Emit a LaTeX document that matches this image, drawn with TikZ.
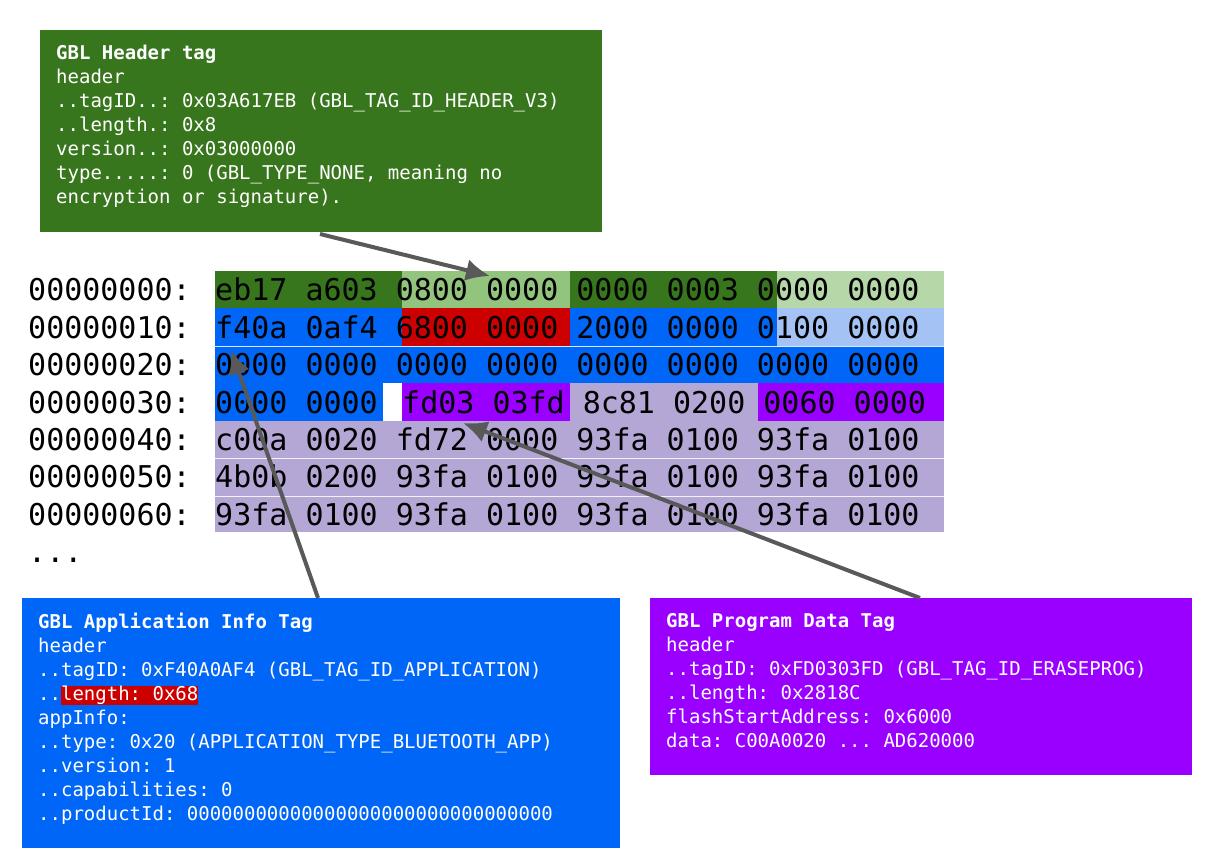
\documentclass[tikz,border=0pt]{standalone}
\usepackage{fontspec}
\setmonofont{DejaVu Sans Mono}
\begin{document}
\begin{tikzpicture}[x=1pt,y=-1pt,
  boxtxt/.style={anchor=north west,align=left,text=white,font=\fontsize{19}{24}\selectfont\ttfamily,inner sep=0pt},
  hex/.style={anchor=base west,inner sep=0pt,font=\fontsize{30}{36}\selectfont\ttfamily},
  arr/.style={draw=arrgray,line width=4pt,-{Latex[length=24pt,width=22pt]}}]
\usetikzlibrary{arrows.meta}
\definecolor{dg}{HTML}{38761D}\definecolor{lg}{HTML}{93C47D}\definecolor{pg}{HTML}{B6D7A8}
\definecolor{bl}{HTML}{0066F7}\definecolor{lb}{HTML}{A4C2F4}\definecolor{rd}{HTML}{CC0000}
\definecolor{pu}{HTML}{9900FF}\definecolor{lv}{HTML}{B4A7D6}\definecolor{arrgray}{HTML}{595959}
\useasboundingbox (0,0) rectangle (1211,866);
\fill[white] (0,0) rectangle (1211,866);
% grid
\def\ra{271}\def\rb{308.5}\def\rc{346}\def\rd{383.5}\def\re{421}
\fill[dg] (215,\ra) rectangle (402,\rb); \fill[lg] (402,\ra) rectangle (570,\rb);
\fill[dg] (570,\ra) rectangle (777,\rb); \fill[pg] (777,\ra) rectangle (944,\rb);
\fill[bl] (215,\rb) rectangle (402,\rc); \fill[rd] (402,\rb) rectangle (570,\rc);
\fill[bl] (570,\rb) rectangle (777,\rc); \fill[lb] (777,\rb) rectangle (944,\rc);
\fill[bl] (215,\rc) rectangle (944,\rd);
\fill[bl] (215,\rd) rectangle (383,\re); \fill[pu] (402,\rd) rectangle (570,\re);
\fill[lv] (570,\rd) rectangle (758,\re); \fill[pu] (758,\rd) rectangle (944,\re);
\fill[lv] (215,\re) rectangle (944,532);
\draw[white!85!lv,line width=0.8pt] (215,458.5) -- (944,458.5) (215,496) -- (944,496);
\draw[white!60!lb,line width=0.8pt] (215,\rc) -- (944,\rc);
\foreach \y/\a/\t [count=\i] in {0/00000000/eb17 a603 0800 0000 0000 0003 0000 0000,
 1/00000010/f40a 0af4 6800 0000 2000 0000 0100 0000,
 2/00000020/0000 0000 0000 0000 0000 0000 0000 0000,
 3/00000030/0000 0000 \ fd03 03fd 8c81 0200 0060 0000,
 4/00000040/c00a 0020 fd72 0000 93fa 0100 93fa 0100,
 5/00000050/4b0b 0200 93fa 0100 93fa 0100 93fa 0100,
 6/00000060/93fa 0100 93fa 0100 93fa 0100 93fa 0100}{
  \node[hex] (a\i) at (28,{301+37.4*\y}) {\a:};
}
\node[hex] (h1) at (215,301) {eb17 a603 0800 0000 0000 0003 0000 0000};
\node[hex] (h2) at (215,338.4) {f40a 0af4 6800 0000 2000 0000 0100 0000};
\node[hex] (h3) at (215,375.8) {0000 0000 0000 0000 0000 0000 0000 0000};
\node[hex] (h4a) at (215,413.2) {0000 0000};
\node[hex] (h4b) at (402,413.2) {fd03 03fd 8c81 0200 0060 0000};
\node[hex] (h5) at (215,450.6) {c00a 0020 fd72 0000 93fa 0100 93fa 0100};
\node[hex] (h6) at (215,488) {4b0b 0200 93fa 0100 93fa 0100 93fa 0100};
\node[hex] (h7) at (215,525.4) {93fa 0100 93fa 0100 93fa 0100 93fa 0100};
\node[hex] (dots) at (28,562) {...};
% boxes
\fill[dg] (40,30) rectangle (602,232);
\node[boxtxt] (gt) at (56,45) {\textbf{GBL Header tag}\\header\\..tagID..: 0x03A617EB (GBL\_TAG\_ID\_HEADER\_V3)\\..length.: 0x8\\version..: 0x03000000\\type.....: 0 (GBL\_TYPE\_NONE, meaning no\\encryption or signature).};
\fill[bl] (22,598) rectangle (620,848);
\node[boxtxt] (bt) at (38,613) {\textbf{GBL Application Info Tag}\\header\\..tagID: 0xF40A0AF4 (GBL\_TAG\_ID\_APPLICATION)\\..{\fboxsep=0pt\colorbox{rd}{length: 0x68}}\\appInfo:\\..type: 0x20 (APPLICATION\_TYPE\_BLUETOOTH\_APP)\\..version: 1\\..capabilities: 0\\..productId: 00000000000000000000000000000000};
\fill[pu] (650,598) rectangle (1192,775);
\node[boxtxt] (pt) at (666,613) {\textbf{GBL Program Data Tag}\\header\\..tagID: 0xFD0303FD (GBL\_TAG\_ID\_ERASEPROG)\\..length: 0x2818C\\flashStartAddress: 0x6000\\data: C00A0020 ... AD620000};
\coordinate (g0) at (320,234); \coordinate (g1) at (490,276);
\coordinate (b0) at (318,598); \coordinate (b1) at (231,350);
\coordinate (p0) at (920,598); \coordinate (p1) at (463,423);
\draw[arr] (g0) -- (g1);
\draw[arr] (b0) -- (b1);
\draw[arr] (p0) -- (p1);
\end{tikzpicture}
\end{document}
